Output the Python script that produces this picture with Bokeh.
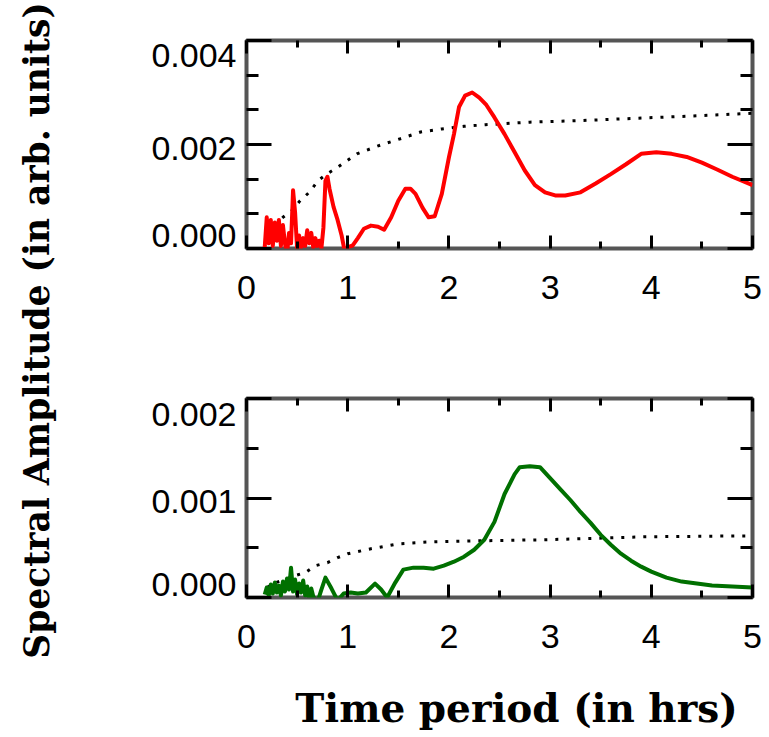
import numpy as np
from bokeh.plotting import figure
from bokeh.models import LinearAxis, FixedTicker, Range1d, Label
from bokeh.layouts import column, row
from bokeh.embed import file_html
from bokeh.resources import INLINE

# ---------------- data ----------------
red_x = [0.18, 0.20, 0.22, 0.24, 0.26, 0.28, 0.30, 0.32, 0.34, 0.36, 0.38, 0.40, 0.42, 0.44,
         0.46, 0.48, 0.50, 0.52, 0.54, 0.56, 0.58, 0.60, 0.62, 0.64, 0.66, 0.68, 0.70, 0.72,
         0.74, 0.76, 0.78, 0.80, 0.82, 0.86, 0.90, 0.94, 0.97, 1.00, 1.05, 1.10, 1.16, 1.23,
         1.30, 1.36, 1.43, 1.50, 1.57, 1.62, 1.67, 1.74, 1.80, 1.86, 1.93, 2.00, 2.05, 2.10,
         2.16, 2.23, 2.30, 2.37, 2.45, 2.55, 2.65, 2.75, 2.85, 2.95, 3.05, 3.15, 3.30, 3.45,
         3.60, 3.75, 3.90, 4.05, 4.20, 4.35, 4.50, 4.65, 4.80, 5.00]
red_y = [0.00002, 0.00060, 0.00010, 0.00055, 0.00005, 0.00050, 0.00015, 0.00055, 0.00005,
         0.00045, 0.00010, -0.00012, 0.00030, 0.00010, 0.00112, 0.00070, 0.00000, 0.00025,
         0.00002, 0.00020, 0.00005, 0.00035, 0.00010, 0.00030, 0.00002, 0.00020, 0.00005,
         0.00015, 0.00000, 0.00040, 0.00130, 0.00138, 0.00115, 0.00080, 0.00055, 0.00025,
         -0.00005, 0.00002, 0.00006, 0.00020, 0.00038, 0.00044, 0.00042, 0.00036, 0.00060,
         0.00092, 0.00115, 0.00115, 0.00105, 0.00078, 0.00060, 0.00062, 0.00105, 0.00175,
         0.00220, 0.00272, 0.00294, 0.00300, 0.00290, 0.00276, 0.00252, 0.00220, 0.00185,
         0.00150, 0.00122, 0.00108, 0.00102, 0.00102, 0.00108, 0.00125, 0.00143, 0.00162,
         0.00182, 0.00185, 0.00182, 0.00176, 0.00165, 0.00152, 0.00138, 0.00122]

red_conf_x = [0.19, 0.27, 0.36, 0.45, 0.53, 0.62, 0.71, 0.80, 0.90, 1.09, 1.31, 1.52, 1.72,
              1.93, 2.15, 2.36, 2.80, 3.30, 3.80, 4.30, 5.00]
red_conf_y = [0.00031, 0.00044, 0.00060, 0.00073, 0.00092, 0.00108, 0.00131, 0.00144, 0.00156,
              0.00182, 0.00198, 0.00211, 0.00224, 0.00230, 0.00235, 0.00238, 0.00243, 0.00246,
              0.00250, 0.00254, 0.00260]

green_x = [0.18, 0.20, 0.22, 0.24, 0.26, 0.28, 0.30, 0.32, 0.34, 0.36, 0.38, 0.40, 0.42, 0.44,
           0.46, 0.48, 0.50, 0.52, 0.54, 0.56, 0.58, 0.60, 0.62, 0.64, 0.66, 0.70, 0.74, 0.78,
           0.84, 0.90, 0.96, 1.03, 1.10, 1.18, 1.27, 1.33, 1.39, 1.47, 1.55, 1.65, 1.75, 1.85,
           1.95, 2.05, 2.15, 2.25, 2.35, 2.45, 2.55, 2.65, 2.70, 2.80, 2.90, 3.00, 3.10, 3.20,
           3.30, 3.40, 3.50, 3.60, 3.70, 3.80, 3.90, 4.00, 4.15, 4.30, 4.45, 4.60, 4.80, 5.00]
green_y = [0.00003, 0.00010, 0.00002, 0.00013, 0.00004, 0.00015, 0.00005, 0.00012, 0.00002,
           0.00016, 0.00006, 0.00019, 0.00008, 0.00030, 0.00006, 0.00018, 0.00003, 0.00014,
           0.00005, 0.00017, 0.00002, 0.00011, -0.00003, 0.00009, 0.00001, -0.00005, 0.00008,
           0.00020, 0.00009, -0.00003, 0.00004, 0.00005, 0.00004, 0.00005, 0.00014, 0.00008,
           0.00000, 0.00015, 0.00028, 0.00030, 0.00030, 0.00029, 0.00032, 0.00036, 0.00041,
           0.00048, 0.00058, 0.00076, 0.00104, 0.00124, 0.00131, 0.00132, 0.00131, 0.00120,
           0.00109, 0.00098, 0.00086, 0.00075, 0.00063, 0.00053, 0.00044, 0.00037, 0.00031,
           0.00026, 0.00020, 0.00016, 0.00014, 0.00012, 0.00011, 0.00010]

green_conf_x = [0.20, 0.29, 0.38, 0.48, 0.58, 0.68, 0.80, 0.90, 1.00, 1.23, 1.51, 1.83, 2.30,
                2.94, 3.93, 5.00]
green_conf_y = [0.00010, 0.00015, 0.00018, 0.00022, 0.00025, 0.00032, 0.00035, 0.00040, 0.00044,
                0.00049, 0.00054, 0.00056, 0.00057, 0.00058, 0.00061, 0.00062]

x_ticks = [0, 1, 2, 3, 4, 5]
x_minor = [0.5, 1.5, 2.5, 3.5, 4.5]

top_y_range = (0.0, 0.004)
top_y_ticks = [0.0, 0.002, 0.004]
top_y_minor = [0.000667, 0.001333, 0.002667, 0.003333]
top_y_labels = ["0.000", "0.002", "0.004"]
top_y_label_pos = [0.00025, 0.00192, 0.00371]

bot_y_range = (0.0, 0.002)
bot_y_ticks = [0.0, 0.001, 0.002]
bot_y_minor = [0.0005, 0.0015]
bot_y_labels = ["0.000", "0.001", "0.002"]
bot_y_label_pos = [0.00013, 0.000965, 0.00184]

y_title = "Spectral Amplitude (in arb. units)"
x_title = "Time period (in hrs)"

TICK_FONT = "Liberation Sans"
TICK_SIZE = "34px"
FRAME = "#555555"


def tick_axis(ticks, minor, tin, mtin):
    return LinearAxis(
        ticker=FixedTicker(ticks=ticks, minor_ticks=minor),
        axis_line_color=None,
        major_tick_in=tin, major_tick_out=0,
        minor_tick_in=mtin, minor_tick_out=0,
        major_tick_line_width=3, minor_tick_line_width=3,
        major_tick_line_color="black", minor_tick_line_color="black",
        major_label_text_font_size="0px", major_label_text_alpha=0,
        major_label_standoff=0,
    )


def make_panel(width, height, borders, yrange, yticks, yminor, ylabels, ylabelpos,
               xs, ys, color, cx, cy):
    left, right, top, bottom = borders
    p = figure(width=width, height=height, x_range=Range1d(0, 5),
               y_range=Range1d(*yrange), output_backend="svg", toolbar_location=None,
               x_axis_location=None, y_axis_location=None,
               min_border_left=left, min_border_right=right,
               min_border_top=top, min_border_bottom=bottom)
    p.grid.visible = False
    p.outline_line_color = FRAME
    p.outline_line_width = 4
    p.background_fill_color = "white"
    p.border_fill_color = "white"

    # x axis with labels (below) and tick-only axis (above)
    xb = tick_axis(x_ticks, x_minor, 13, 7)
    xb.major_label_text_font_size = TICK_SIZE
    xb.major_label_text_alpha = 1
    xb.major_label_text_font = TICK_FONT
    xb.major_label_text_color = "black"
    xb.major_label_standoff = 27
    p.add_layout(xb, "below")
    p.add_layout(tick_axis(x_ticks, x_minor, 13, 7), "above")

    # y tick axes (left and right)
    p.add_layout(tick_axis(yticks, yminor, 25, 12), "left")
    p.add_layout(tick_axis(yticks, yminor, 25, 12), "right")

    # y label axis (labels only)
    yl = LinearAxis(
        ticker=FixedTicker(ticks=ylabelpos, minor_ticks=[]),
        axis_line_color=None,
        major_tick_line_color=None, minor_tick_line_color=None,
        major_tick_in=0, major_tick_out=0, minor_tick_in=0, minor_tick_out=0,
        major_label_overrides={pos: lab for pos, lab in zip(ylabelpos, ylabels)},
        major_label_text_font=TICK_FONT, major_label_text_font_size=TICK_SIZE,
        major_label_text_color="black", major_label_standoff=10,
    )
    p.add_layout(yl, "left")

    p.line(cx, cy, color="black", line_width=3, line_dash="3 8")
    p.line(xs, ys, color=color, line_width=4, line_join="round")
    return p


LW = 68
RW = 178 + 506 + 15
top = make_panel(RW, 338, (178, 15, 40, 90), top_y_range, top_y_ticks, top_y_minor,
                 top_y_labels, top_y_label_pos, red_x, red_y, "#ff0000", red_conf_x, red_conf_y)
bot = make_panel(RW, 339, (178, 15, 60, 80), bot_y_range, bot_y_ticks, bot_y_minor,
                 bot_y_labels, bot_y_label_pos, green_x, green_y, "#007000",
                 green_conf_x, green_conf_y)

LH = 338 + 339
lf = figure(width=LW, height=LH, x_range=Range1d(0, LW), y_range=Range1d(0, LH),
            output_backend="svg", toolbar_location=None, x_axis_type=None, y_axis_type=None,
            min_border=0, outline_line_color=None)
lf.grid.visible = False
lf.add_layout(Label(x=36, y=LH - 330, text=y_title, angle=np.pi / 2, text_align="center",
                    text_baseline="alphabetic", text_font="DejaVu Serif",
                    text_font_style="bold", text_font_size="34.5px", text_color="black"))

XW, XH = LW + RW, 60
xf = figure(width=XW, height=XH, x_range=Range1d(0, XW), y_range=Range1d(0, XH),
            output_backend="svg", toolbar_location=None, x_axis_type=None, y_axis_type=None,
            min_border=0, outline_line_color=None)
xf.grid.visible = False
xf.add_layout(Label(x=516, y=30, text=x_title, text_align="center",
                    text_baseline="alphabetic", text_font="DejaVu Serif",
                    text_font_style="bold", text_font_size="39px", text_color="black"))

layout = column(row(lf, column(top, bot)), xf)
open("out.html", "w").write(file_html(layout, INLINE))
